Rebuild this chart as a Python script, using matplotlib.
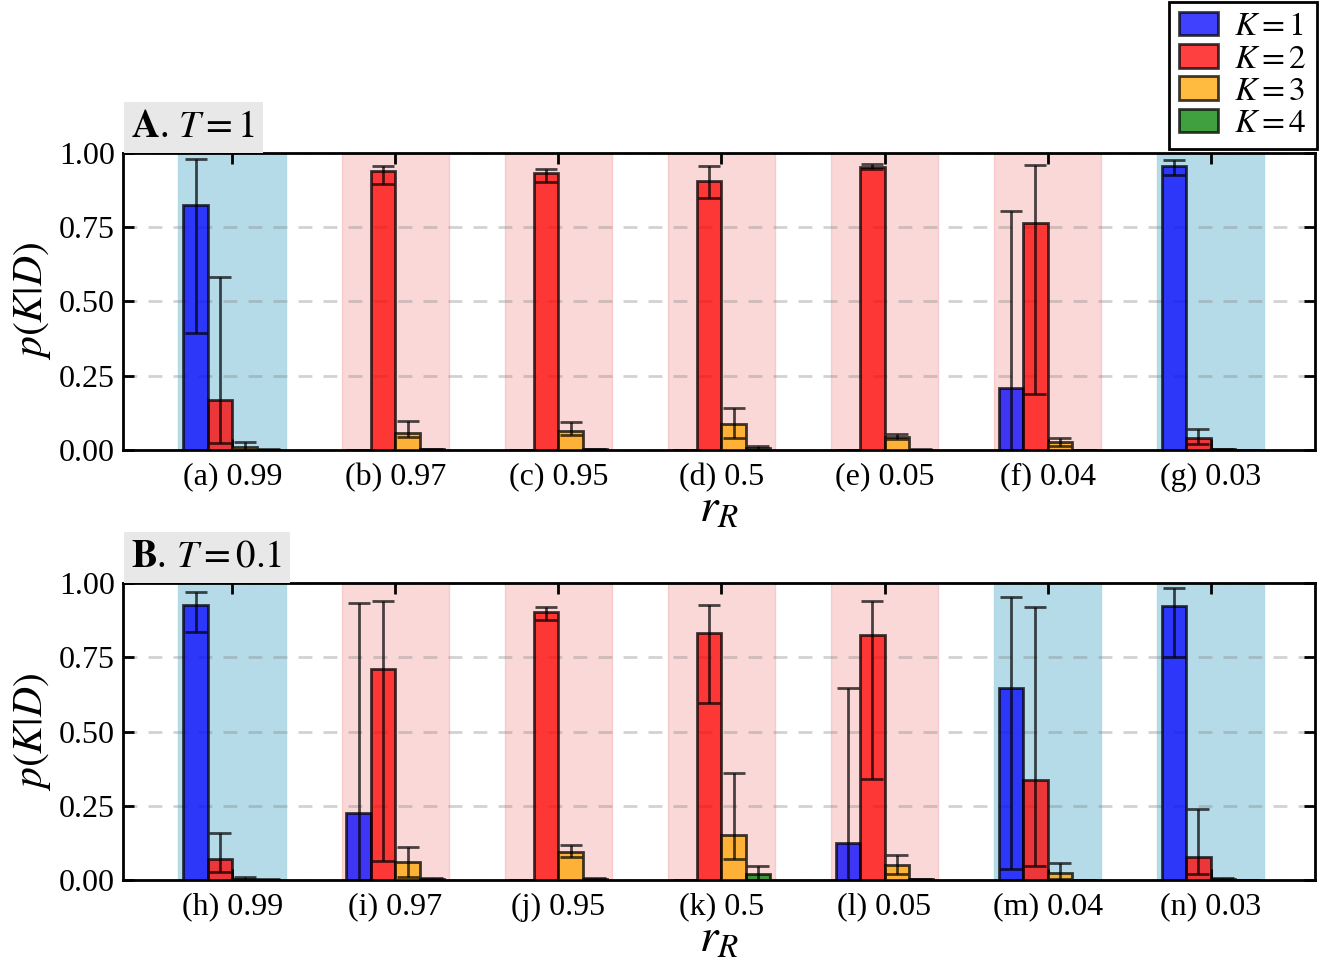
import numpy as np
import matplotlib
matplotlib.use('Agg')
import matplotlib.pyplot as plt

plt.rcParams['font.family'] = ['Liberation Serif', 'DejaVu Serif']
plt.rcParams['mathtext.fontset'] = 'stix'

# x tick labels for each panel
labels_A = ['(a) 0.99', '(b) 0.97', '(c) 0.95', '(d) 0.5', '(e) 0.05', '(f) 0.04', '(g) 0.03']
labels_B = ['(h) 0.99', '(i) 0.97', '(j) 0.95', '(k) 0.5', '(l) 0.05', '(m) 0.04', '(n) 0.03']

# panel A (T=1): mean, lower, upper of p(K|D) for K=1..4
A_k1 = [0.825, 0.0, 0.0, 0.0, 0.0, 0.209, 0.957]
A_k1_lo = [0.395, 0.0, 0.0, 0.0, 0.0, 0.0, 0.927]
A_k1_hi = [0.979, 0.0, 0.0, 0.0, 0.0, 0.806, 0.976]
A_k2 = [0.167, 0.940, 0.934, 0.907, 0.954, 0.764, 0.039]
A_k2_lo = [0.022, 0.894, 0.901, 0.847, 0.945, 0.187, 0.020]
A_k2_hi = [0.581, 0.956, 0.946, 0.957, 0.962, 0.959, 0.071]
A_k3 = [0.009, 0.058, 0.065, 0.088, 0.045, 0.026, 0.002]
A_k3_lo = [0.0, 0.043, 0.050, 0.041, 0.037, 0.012, 0.0]
A_k3_hi = [0.026, 0.099, 0.093, 0.142, 0.053, 0.041, 0.004]
A_k4 = [0.001, 0.002, 0.002, 0.006, 0.001, 0.0, 0.0]
A_k4_lo = [0.0, 0.0, 0.0, 0.0, 0.0, 0.0, 0.0]
A_k4_hi = [0.003, 0.004, 0.004, 0.012, 0.002, 0.001, 0.0]

# panel B (T=0.1)
B_k1 = [0.926, 0.227, 0.0, 0.0, 0.126, 0.645, 0.923]
B_k1_lo = [0.836, 0.0, 0.0, 0.0, 0.0, 0.037, 0.752]
B_k1_hi = [0.971, 0.934, 0.0, 0.0, 0.645, 0.952, 0.982]
B_k2 = [0.071, 0.712, 0.903, 0.833, 0.825, 0.337, 0.076]
B_k2_lo = [0.028, 0.065, 0.875, 0.595, 0.340, 0.048, 0.019]
B_k2_hi = [0.157, 0.941, 0.918, 0.927, 0.940, 0.919, 0.239]
B_k3 = [0.004, 0.062, 0.095, 0.152, 0.050, 0.022, 0.004]
B_k3_lo = [0.0, 0.010, 0.079, 0.071, 0.019, 0.003, 0.0]
B_k3_hi = [0.010, 0.110, 0.118, 0.361, 0.084, 0.058, 0.008]
B_k4 = [0.001, 0.003, 0.004, 0.019, 0.002, 0.0, 0.0]
B_k4_lo = [0.0, 0.0, 0.0, 0.0, 0.0, 0.0, 0.0]
B_k4_hi = [0.002, 0.006, 0.008, 0.048, 0.004, 0.001, 0.001]

bar_colors = ['blue', 'red', 'orange', 'green']
k_labels = ['$K=1$', '$K=2$', '$K=3$', '$K=4$']

panels = [
    ('A', '1', labels_A,
     [(A_k1, A_k1_lo, A_k1_hi), (A_k2, A_k2_lo, A_k2_hi),
      (A_k3, A_k3_lo, A_k3_hi), (A_k4, A_k4_lo, A_k4_hi)]),
    ('B', '0.1', labels_B,
     [(B_k1, B_k1_lo, B_k1_hi), (B_k2, B_k2_lo, B_k2_hi),
      (B_k3, B_k3_lo, B_k3_hi), (B_k4, B_k4_lo, B_k4_hi)]),
]

fig = plt.figure(figsize=(13.33, 9.6), dpi=100)
ax_boxes = [[0.0923, 0.53125, 0.8942, 0.3094], [0.0923, 0.0833, 0.8942, 0.3094]]

width = 0.15
handles = []
for (letter, tval, xlabels, series), box in zip(panels, ax_boxes):
    ax = fig.add_axes(box)
    x = np.arange(len(xlabels))
    means = np.array([s[0] for s in series])
    # background span coloured by the winning K
    for i in x:
        win = np.argmax(means[:, i])
        if win == 0:
            ax.axvspan(i - 0.33, i + 0.33, color='lightblue', alpha=0.9, zorder=0)
        else:
            ax.axvspan(i - 0.33, i + 0.33, color='lightcoral', alpha=0.3, zorder=0)
    for k, (m, lo, hi) in enumerate(series):
        m = np.array(m); lo = np.array(lo); hi = np.array(hi)
        xs = x + (k - 1.5) * width
        b = ax.bar(xs, m, width=width, color=bar_colors[k], alpha=0.75,
                   edgecolor='black', linewidth=2, label=k_labels[k], zorder=3)
        if letter == 'A':
            handles.append(b)
        mask = hi > 0
        ax.errorbar(xs[mask], m[mask], yerr=[m[mask] - lo[mask], hi[mask] - m[mask]],
                    fmt='none', ecolor='black', alpha=0.7, elinewidth=2,
                    capsize=8, capthick=2, zorder=4)
    ax.set_xlim(-0.67, 6.64)
    ax.set_ylim(0, 1)
    ax.set_yticks([0, 0.25, 0.5, 0.75, 1.0])
    ax.set_yticklabels(['0.00', '0.25', '0.50', '0.75', '1.00'], fontsize=23)
    ax.set_xticks(x)
    ax.set_xticklabels(xlabels, fontsize=23)
    ax.yaxis.grid(True, linestyle='--', color='gray', alpha=0.35, linewidth=2, dashes=(5, 4))
    ax.set_axisbelow(True)
    ax.tick_params(direction='in', top=True, right=True, length=8, width=2)
    ax.tick_params(axis='x', pad=9)
    ax.tick_params(axis='y', pad=6)
    for sp in ax.spines.values():
        sp.set_linewidth(2)
    ax.set_xlabel('$r_R$', fontsize=34, labelpad=-2)
    ax.set_ylabel('$p(K|D)$', fontsize=30, labelpad=4)
    ax.text(0.007, 1.025, r'$\mathbf{' + letter + '}$. $T=' + tval + '$',
            transform=ax.transAxes, fontsize=28, ha='left', va='bottom',
            bbox=dict(facecolor='#e8e8e8', edgecolor='none', pad=5))

leg = fig.legend(handles=handles, loc='upper right', bbox_to_anchor=(0.988, 0.998),
                 borderaxespad=0, fontsize=24, fancybox=False, framealpha=1,
                 edgecolor='black', handlelength=1.15, handletextpad=0.5,
                 borderpad=0.3, labelspacing=0.05)
leg.get_frame().set_linewidth(2)

fig.savefig('out.png', dpi=100)
